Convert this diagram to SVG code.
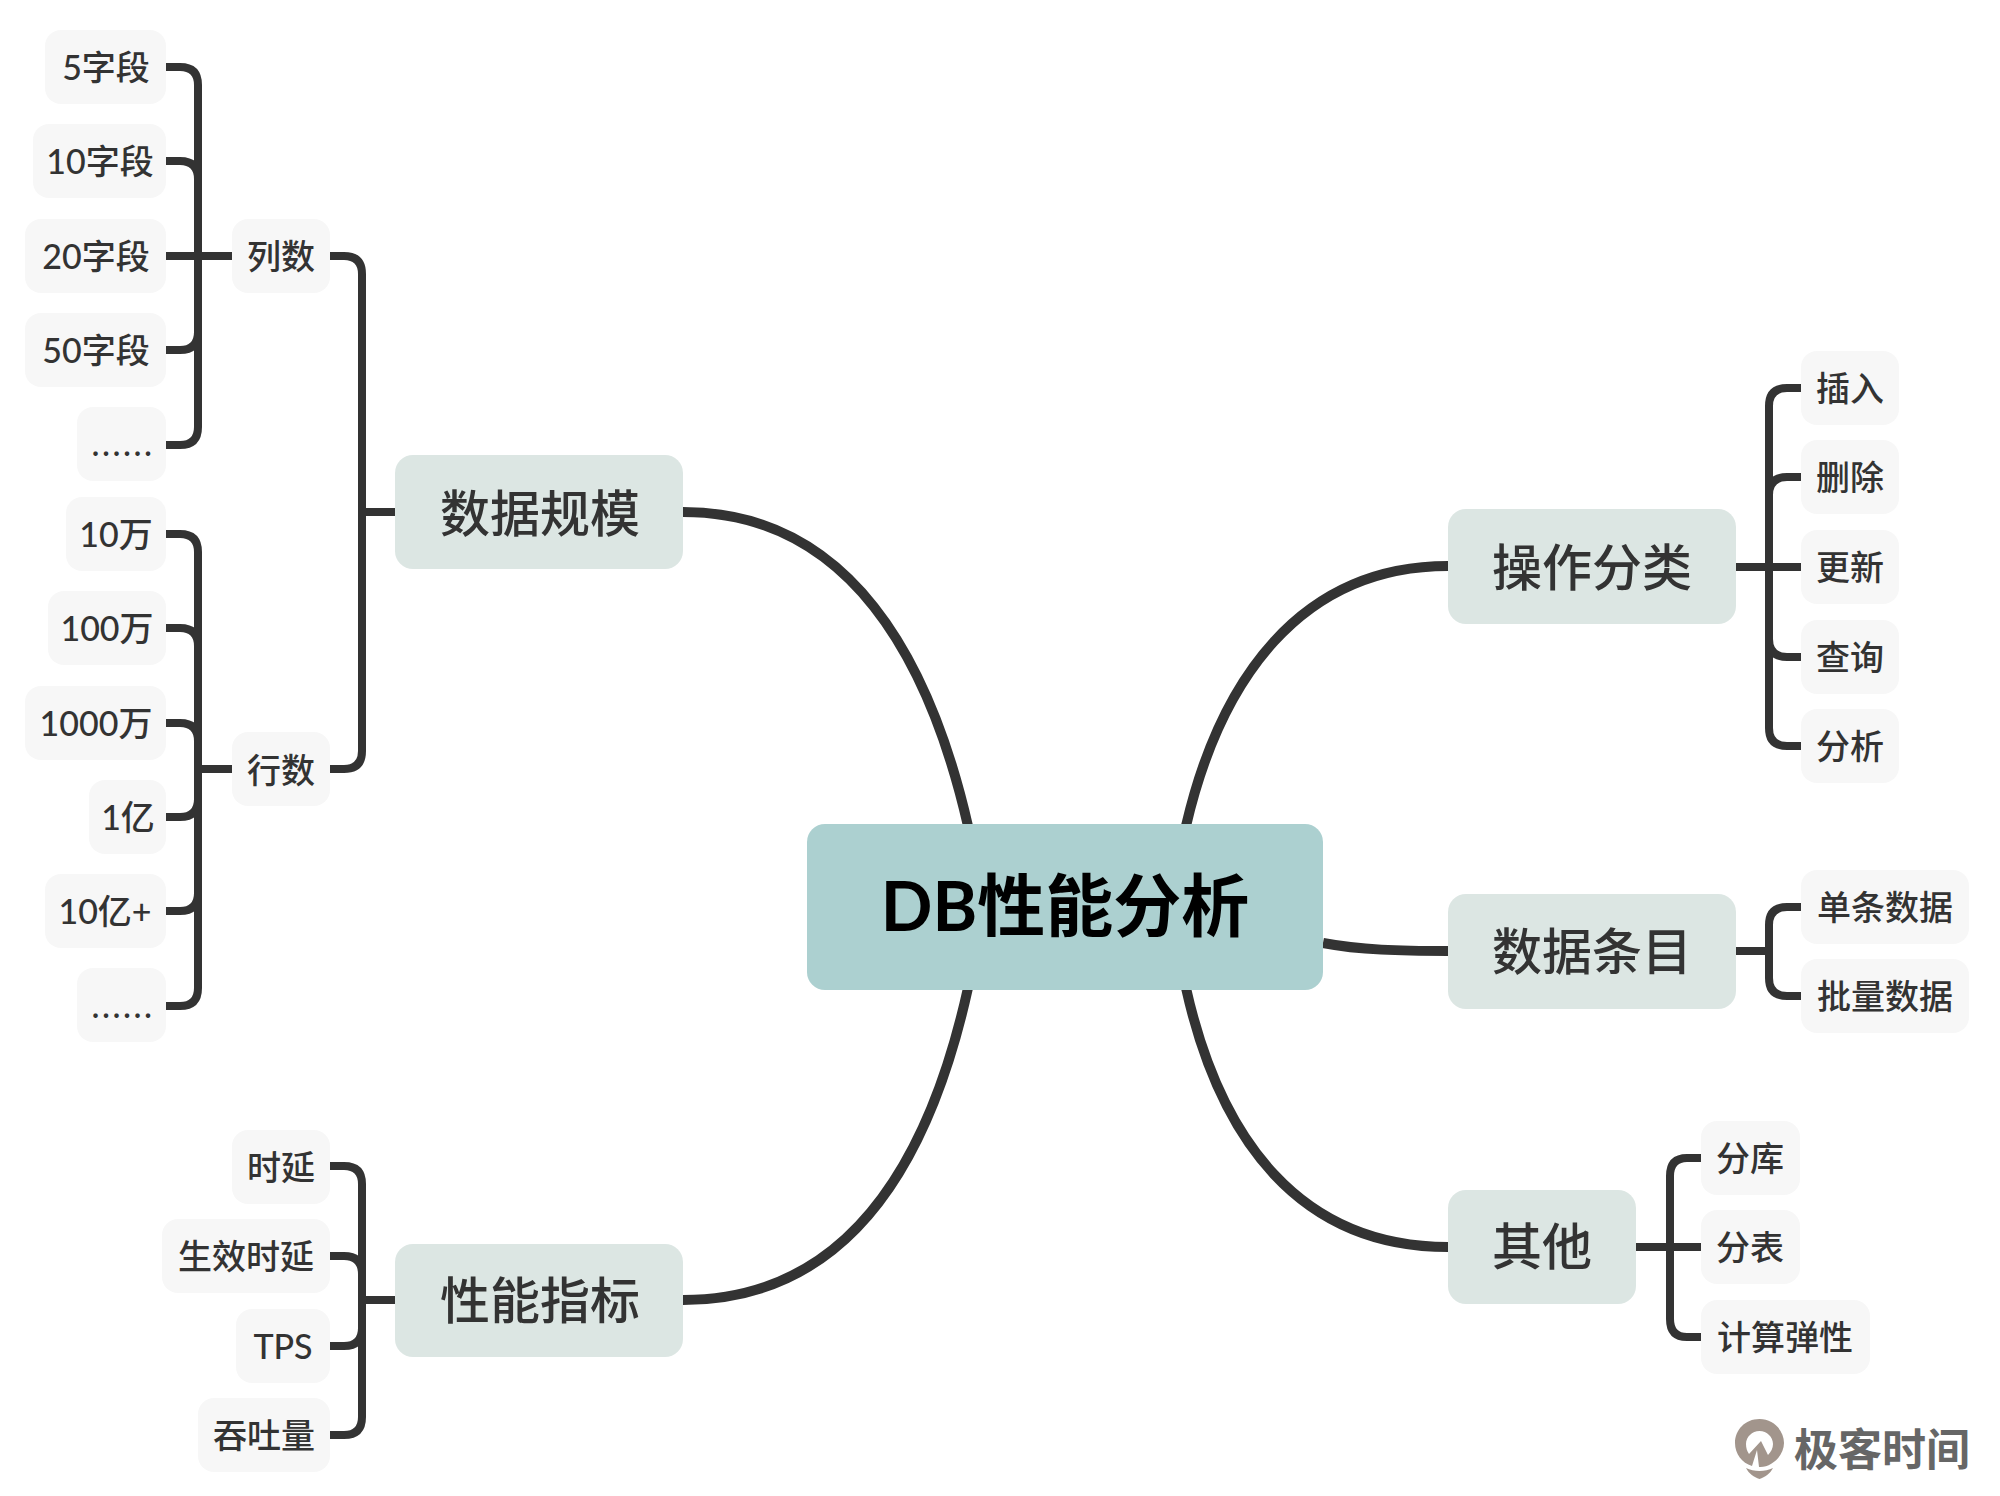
<svg xmlns="http://www.w3.org/2000/svg" width="2000" height="1496" viewBox="0 0 2000 1496">
<style>
text{font-family:"Lato","Noto Sans CJK SC",sans-serif;text-anchor:middle;fill:#333;font-weight:500}
.l3 rect{fill:#f7f7f7}
.l3 text{font-size:34px}
.l3 .dots{letter-spacing:2.500px}
.l2 rect{fill:#dce6e3}
.l2 text{font-size:50px}
.c{fill:none;stroke:#333;stroke-width:8}
.m{fill:none;stroke:#333;stroke-width:10}
</style>
<rect width="2000" height="1496" fill="#fff"/>
<g id="connectors">
<path class="m" d="M683 512C850 512 930 660 968 826"/>
<path class="m" d="M683 1300C850 1300 930 1160 968 988"/>
<path class="m" d="M1448 566C1300 566 1220 680 1186 826"/>
<path class="m" d="M1448 1247C1300 1247 1220 1140 1186 988"/>
<path class="m" d="M1448 951C1400 951 1360 950 1323 943"/>
<path class="c" d="M330 256H344Q362 256 362 274V751Q362 769 344 769H330M362 512H395"/>
<path class="c" d="M166 67H180Q198 67 198 85V427Q198 445 180 445H166M166 161H180Q198 161 198 179M166 256H232M166 350H180Q198 350 198 332"/>
<path class="c" d="M166 534H180Q198 534 198 552V988Q198 1006 180 1006H166M166 628H180Q198 628 198 646M166 723H180Q198 723 198 741M166 817H180Q198 817 198 799M166 911H180Q198 911 198 893M198 769H232"/>
<path class="c" d="M330 1166H344Q362 1166 362 1184V1417Q362 1435 344 1435H330M330 1256H344Q362 1256 362 1274M330 1346H344Q362 1346 362 1328M362 1300H395"/>
<path class="c" d="M1801 388H1787Q1769 388 1769 406V728Q1769 746 1787 746H1801M1801 477H1787Q1769 477 1769 495M1736 567H1801M1801 657H1787Q1769 657 1769 639"/>
<path class="c" d="M1801 907H1787Q1769 907 1769 925V978Q1769 996 1787 996H1801M1736 951H1769"/>
<path class="c" d="M1701 1158H1687Q1670 1158 1670 1176V1319Q1670 1337 1687 1337H1701M1636 1247H1701"/>
</g>
<g id="root"><rect x="807" y="824" width="516" height="166" rx="18" fill="#acd0d0"/><text x="1065" y="931" font-size="68" font-weight="700" style="fill:#000;font-weight:700">DB性能分析</text></g>
<g id="n-data-scale" class="l2"><rect x="395" y="455" width="288" height="114" rx="18"/><text x="540" y="532">数据规模</text></g>
<g id="n-perf" class="l2"><rect x="395" y="1244" width="288" height="113" rx="18"/><text x="540" y="1319">性能指标</text></g>
<g id="n-ops" class="l2"><rect x="1448" y="509" width="288" height="115" rx="18"/><text x="1592" y="586">操作分类</text></g>
<g id="n-rows" class="l2"><rect x="1448" y="894" width="288" height="115" rx="18"/><text x="1592" y="970">数据条目</text></g>
<g id="n-other" class="l2"><rect x="1448" y="1190" width="188" height="114" rx="18"/><text x="1542" y="1265">其他</text></g>
<g id="n-cols" class="l3"><rect x="232" y="219" width="98" height="74" rx="16"/><text x="281" y="269">列数</text></g>
<g id="n-rowcount" class="l3"><rect x="232" y="732" width="98" height="74" rx="16"/><text x="281" y="783">行数</text></g>
<g id="c5" class="l3"><rect x="45" y="30" width="121" height="74" rx="16"/><text x="106" y="80">5字段</text></g>
<g id="c10" class="l3"><rect x="33" y="124" width="133" height="74" rx="16"/><text x="100" y="174">10字段</text></g>
<g id="c20" class="l3"><rect x="25" y="219" width="141" height="74" rx="16"/><text x="96" y="269">20字段</text></g>
<g id="c50" class="l3"><rect x="25" y="313" width="141" height="74" rx="16"/><text x="96" y="363">50字段</text></g>
<g id="cmore" class="l3"><rect x="77" y="407" width="89" height="74" rx="16"/><text class="dots" x="123" y="456">......</text></g>
<g id="r1" class="l3"><rect x="66" y="497" width="100" height="74" rx="16"/><text x="116" y="547">10万</text></g>
<g id="r2" class="l3"><rect x="48" y="591" width="118" height="74" rx="16"/><text x="107" y="641">100万</text></g>
<g id="r3" class="l3"><rect x="25" y="686" width="141" height="74" rx="16"/><text x="96" y="736">1000万</text></g>
<g id="r4" class="l3"><rect x="89" y="780" width="77" height="74" rx="16"/><text x="128" y="830">1亿</text></g>
<g id="r5" class="l3"><rect x="45" y="874" width="121" height="74" rx="16"/><text x="105" y="924">10亿+</text></g>
<g id="rmore" class="l3"><rect x="77" y="968" width="89" height="74" rx="16"/><text class="dots" x="123" y="1018">......</text></g>
<g id="p1" class="l3"><rect x="232" y="1130" width="98" height="74" rx="16"/><text x="281" y="1180">时延</text></g>
<g id="p2" class="l3"><rect x="162" y="1219" width="168" height="74" rx="16"/><text x="246" y="1269">生效时延</text></g>
<g id="p3" class="l3"><rect x="236" y="1309" width="94" height="74" rx="16"/><text x="283" y="1359">TPS</text></g>
<g id="p4" class="l3"><rect x="198" y="1398" width="132" height="74" rx="16"/><text x="264" y="1448">吞吐量</text></g>
<g id="o1" class="l3"><rect x="1801" y="351" width="98" height="74" rx="16"/><text x="1850" y="401">插入</text></g>
<g id="o2" class="l3"><rect x="1801" y="440" width="98" height="74" rx="16"/><text x="1850" y="490">删除</text></g>
<g id="o3" class="l3"><rect x="1801" y="530" width="98" height="74" rx="16"/><text x="1850" y="580">更新</text></g>
<g id="o4" class="l3"><rect x="1801" y="620" width="98" height="74" rx="16"/><text x="1850" y="670">查询</text></g>
<g id="o5" class="l3"><rect x="1801" y="709" width="98" height="74" rx="16"/><text x="1850" y="759">分析</text></g>
<g id="d1" class="l3"><rect x="1801" y="870" width="168" height="74" rx="16"/><text x="1885" y="920">单条数据</text></g>
<g id="d2" class="l3"><rect x="1801" y="959" width="168" height="74" rx="16"/><text x="1885" y="1009">批量数据</text></g>
<g id="x1" class="l3"><rect x="1701" y="1121" width="99" height="74" rx="16"/><text x="1750" y="1171">分库</text></g>
<g id="x2" class="l3"><rect x="1701" y="1210" width="99" height="74" rx="16"/><text x="1750" y="1260">分表</text></g>
<g id="x3" class="l3"><rect x="1701" y="1300" width="169" height="74" rx="16"/><text x="1785" y="1350">计算弹性</text></g>
<g id="logo">
<path fill="#a2958c" d="M1759.500 1419C1745 1419 1735 1430 1735 1443C1735 1454 1742 1463 1752 1466L1757 1450L1759 1467C1771 1468 1784 1456 1784 1443C1784 1430 1773 1419 1759.500 1419ZM1759.500 1431C1767 1431 1773 1437 1773 1444C1773 1448 1771 1452 1768 1455L1761 1441L1749 1454C1747 1451 1746 1448 1746 1444C1746 1437 1752 1431 1759.500 1431Z"/>
<path fill="#a2958c" d="M1746 1468C1754 1472 1765 1472 1773 1468C1770 1474 1765 1477 1759.500 1479C1754 1477 1749 1474 1746 1468Z"/>
<text x="1882" y="1466" font-size="44" style="fill:#666;font-weight:700">极客时间</text>
</g>
</svg>
